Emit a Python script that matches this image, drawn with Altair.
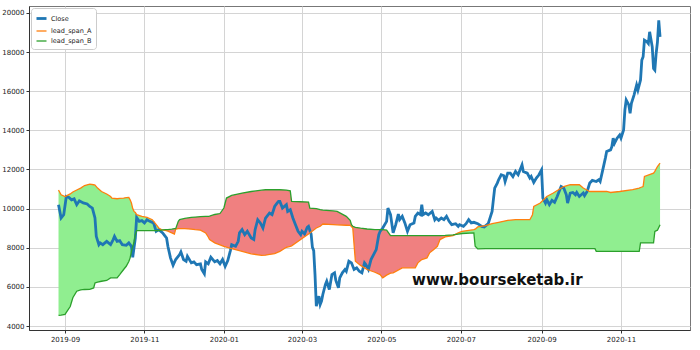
import altair as alt
import pandas as pd

# ---------------- data ----------------
close_dates = [
    "2019-08-27", "2019-08-29", "2019-08-31", "2019-09-02", "2019-09-04", "2019-09-06",
    "2019-09-08", "2019-09-10", "2019-09-12", "2019-09-15", "2019-09-18", "2019-09-20",
    "2019-09-22", "2019-09-24", "2019-09-25", "2019-09-27", "2019-09-28", "2019-09-30",
    "2019-10-03", "2019-10-06", "2019-10-08", "2019-10-09", "2019-10-11", "2019-10-13",
    "2019-10-15", "2019-10-18", "2019-10-20", "2019-10-22", "2019-10-23", "2019-10-25",
    "2019-10-26", "2019-10-28", "2019-10-30", "2019-11-01", "2019-11-03", "2019-11-05",
    "2019-11-08", "2019-11-10", "2019-11-12", "2019-11-15", "2019-11-17", "2019-11-18",
    "2019-11-19", "2019-11-21", "2019-11-23", "2019-11-25", "2019-11-28", "2019-11-29",
    "2019-12-01", "2019-12-03", "2019-12-04", "2019-12-07", "2019-12-09", "2019-12-11",
    "2019-12-14", "2019-12-15", "2019-12-17", "2019-12-18", "2019-12-20", "2019-12-22",
    "2019-12-25", "2019-12-27", "2019-12-29", "2019-12-31", "2020-01-02", "2020-01-04",
    "2020-01-06", "2020-01-07", "2020-01-10", "2020-01-12", "2020-01-13", "2020-01-15",
    "2020-01-17", "2020-01-19", "2020-01-22", "2020-01-24", "2020-01-25", "2020-01-27",
    "2020-01-29", "2020-01-31", "2020-02-02", "2020-02-05", "2020-02-07", "2020-02-09",
    "2020-02-11", "2020-02-12", "2020-02-13", "2020-02-15", "2020-02-18", "2020-02-19",
    "2020-02-21", "2020-02-23", "2020-02-25", "2020-02-27", "2020-02-29", "2020-03-01",
    "2020-03-03", "2020-03-05", "2020-03-06", "2020-03-08", "2020-03-09", "2020-03-10",
    "2020-03-11", "2020-03-12", "2020-03-14", "2020-03-15", "2020-03-16", "2020-03-17",
    "2020-03-19", "2020-03-20", "2020-03-22", "2020-03-24", "2020-03-26", "2020-03-27",
    "2020-03-29", "2020-03-30", "2020-04-01", "2020-04-03", "2020-04-04", "2020-04-06",
    "2020-04-08", "2020-04-10", "2020-04-12", "2020-04-14", "2020-04-16", "2020-04-18",
    "2020-04-19", "2020-04-21", "2020-04-23", "2020-04-25", "2020-04-27", "2020-04-29",
    "2020-04-30", "2020-05-02", "2020-05-05", "2020-05-06", "2020-05-08", "2020-05-10",
    "2020-05-12", "2020-05-14", "2020-05-15", "2020-05-17", "2020-05-19", "2020-05-21",
    "2020-05-23", "2020-05-26", "2020-05-27", "2020-05-29", "2020-05-31", "2020-06-01",
    "2020-06-02", "2020-06-04", "2020-06-06", "2020-06-09", "2020-06-11", "2020-06-12",
    "2020-06-14", "2020-06-16", "2020-06-18", "2020-06-20", "2020-06-22", "2020-06-24",
    "2020-06-27", "2020-06-29", "2020-06-30", "2020-07-03", "2020-07-05", "2020-07-07",
    "2020-07-09", "2020-07-11", "2020-07-14", "2020-07-17", "2020-07-19", "2020-07-22",
    "2020-07-23", "2020-07-25", "2020-07-26", "2020-07-27", "2020-07-29", "2020-07-30",
    "2020-08-01", "2020-08-03", "2020-08-04", "2020-08-06", "2020-08-08", "2020-08-10",
    "2020-08-12", "2020-08-14", "2020-08-17", "2020-08-18", "2020-08-21", "2020-08-23",
    "2020-08-24", "2020-08-26", "2020-08-28", "2020-08-30", "2020-09-01", "2020-09-02",
    "2020-09-04", "2020-09-05", "2020-09-07", "2020-09-09", "2020-09-11", "2020-09-13",
    "2020-09-15", "2020-09-16", "2020-09-18", "2020-09-20", "2020-09-21", "2020-09-23",
    "2020-09-25", "2020-09-27", "2020-09-28", "2020-09-30", "2020-10-03", "2020-10-04",
    "2020-10-06", "2020-10-08", "2020-10-10", "2020-10-13", "2020-10-15", "2020-10-16",
    "2020-10-18", "2020-10-20", "2020-10-21", "2020-10-24", "2020-10-25", "2020-10-26",
    "2020-10-27", "2020-10-29", "2020-10-31", "2020-11-01", "2020-11-03", "2020-11-04",
    "2020-11-05", "2020-11-07", "2020-11-08", "2020-11-09", "2020-11-11", "2020-11-13",
    "2020-11-14", "2020-11-16", "2020-11-17", "2020-11-18", "2020-11-19", "2020-11-21",
    "2020-11-22", "2020-11-23", "2020-11-25", "2020-11-26", "2020-11-27", "2020-11-28",
    "2020-11-29", "2020-11-30", "2020-12-01",
]
close_values = [
    10200, 9520, 9690, 10620, 10570, 10450,
    10500, 10200, 10400, 10290, 10235, 10110,
    10030, 9520, 8585, 8160, 8250, 8160,
    8330, 8160, 8420, 8585, 8330, 8365,
    8160, 8125, 8250, 8075, 7515, 8500,
    9550, 9350, 9385, 9270, 9435, 9350,
    9270, 8840, 8925, 8760, 8585, 8500,
    8075, 7485, 7110, 7400, 7650, 7790,
    7400, 7310, 7565, 7230, 7280, 7140,
    7180, 6890, 6670, 7280, 7180, 7515,
    7280, 7345, 7180, 7400, 7055, 7345,
    7855, 8160, 8075, 8330, 8760, 8925,
    8670, 8840, 8500, 8420, 8925, 9435,
    9270, 9010, 9520, 9775, 9690, 10110,
    10290, 10370, 10370, 10030, 10200, 9860,
    9945, 9520, 9180, 8840, 8670, 8840,
    8705, 9045, 9095, 8705, 8025, 7855,
    6630, 5020, 5530, 5105, 5275, 5615,
    6125, 6290, 5870, 6630, 6720, 6330,
    5955, 6465, 6720, 6890, 6800, 7310,
    7230, 6890, 6975, 6800, 6720, 7230,
    7140, 6890, 7400, 7650, 7905, 8670,
    8840, 9010, 9350, 10030, 9690, 8760,
    9180, 9725, 9435, 9605, 9270, 8840,
    9180, 9270, 9605, 9775, 9690, 10200,
    9690, 9775, 9690, 9860, 9435, 9520,
    9400, 9520, 9435, 9605, 9350, 9180,
    9230, 9095, 9180, 9095, 9230, 9435,
    9270, 9300, 9230, 9095, 9065, 9230,
    9435, 9860, 10455, 11050, 11305, 11475,
    11730, 11680, 11385, 11815, 11815, 11640,
    11900, 11730, 12235, 11900, 11815, 11560,
    11640, 11335, 11560, 11730, 11980, 10540,
    10285, 10455, 10200, 10420, 10320, 10620,
    10965, 11130, 11050, 10710, 10285, 10795,
    10825, 10710, 10825, 10620, 10795, 10660,
    10875, 11305, 11440, 11385, 11475, 11385,
    11980, 12580, 12915, 13000, 13170, 13600,
    13340, 13600, 13765, 13600, 14020, 15040,
    15550, 15295, 14870, 15380, 15800, 16310,
    16060, 16570, 17585, 17755, 18600, 18515,
    18435, 19030, 18265, 17160, 17075, 17925,
    18500, 19620, 18775,
]

span_dates = [
    "2019-08-27", "2019-08-29", "2019-09-01", "2019-09-02", "2019-09-05", "2019-09-07",
    "2019-09-10", "2019-09-13", "2019-09-16", "2019-09-20", "2019-09-23", "2019-09-24",
    "2019-09-26", "2019-09-29", "2019-10-03", "2019-10-06", "2019-10-07", "2019-10-11",
    "2019-10-13", "2019-10-16", "2019-10-18", "2019-10-20", "2019-10-21", "2019-10-22",
    "2019-10-23", "2019-10-24", "2019-10-25", "2019-10-26", "2019-10-30", "2019-11-03",
    "2019-11-07", "2019-11-09", "2019-11-12", "2019-11-14", "2019-11-17", "2019-11-19",
    "2019-11-22", "2019-11-24", "2019-11-25", "2019-11-27", "2019-11-28", "2019-12-02",
    "2019-12-07", "2019-12-10", "2019-12-14", "2019-12-18", "2019-12-20", "2019-12-21",
    "2019-12-25", "2019-12-29", "2020-01-01", "2020-01-03", "2020-01-07", "2020-01-15",
    "2020-01-22", "2020-01-30", "2020-02-02", "2020-02-04", "2020-02-09", "2020-02-13",
    "2020-02-18", "2020-02-21", "2020-02-22", "2020-02-29", "2020-03-06", "2020-03-07",
    "2020-03-12", "2020-03-15", "2020-03-17", "2020-03-25", "2020-03-28", "2020-04-04",
    "2020-04-07", "2020-04-08", "2020-04-09", "2020-04-11", "2020-04-15", "2020-04-20",
    "2020-04-26", "2020-04-30", "2020-05-02", "2020-05-05", "2020-05-08", "2020-05-10",
    "2020-05-17", "2020-05-23", "2020-05-27", "2020-05-29", "2020-06-01", "2020-06-05",
    "2020-06-07", "2020-06-10", "2020-06-13", "2020-06-15", "2020-06-19", "2020-06-25",
    "2020-06-29", "2020-07-02", "2020-07-11", "2020-07-12", "2020-07-14", "2020-07-20",
    "2020-07-25", "2020-07-30", "2020-08-06", "2020-08-12", "2020-08-23", "2020-08-25",
    "2020-08-26", "2020-08-31", "2020-09-05", "2020-09-10", "2020-09-18", "2020-09-23",
    "2020-09-30", "2020-10-03", "2020-10-08", "2020-10-12", "2020-10-13", "2020-10-21",
    "2020-10-24", "2020-10-31", "2020-11-10", "2020-11-15", "2020-11-16", "2020-11-18",
    "2020-11-19", "2020-11-26", "2020-11-27", "2020-11-29", "2020-12-01",
]
lead_span_a = [
    10950, 10710, 10620, 10650, 10750, 10850,
    10950, 11050, 11180, 11255, 11220, 11200,
    11050, 10875, 10745, 10620, 10540, 10505,
    10520, 10540, 10560, 10570, 10450, 10285,
    10000, 9860, 9800, 9690, 9605, 9550,
    9435, 9270, 9010, 8925, 8890, 8850,
    8760, 8700, 8950, 8975, 8975, 8975,
    8950, 8925, 8900, 8760, 8550, 8420,
    8250, 8150, 8075, 8030, 7955, 7820,
    7690, 7615, 7620, 7650, 7700, 7820,
    8025, 8075, 8100, 8420, 8700, 8760,
    9010, 9100, 9215, 9180, 9170, 9150,
    9145, 9080, 9010, 7310, 7100, 6890,
    6750, 6630, 6465, 6600, 6700, 6720,
    6975, 6975, 6975, 7230, 7400, 7485,
    7740, 7905, 8075, 8420, 8555, 8620,
    8760, 8840, 8925, 8950, 9065, 9130,
    9230, 9300, 9400, 9435, 9435, 9690,
    10110, 10285, 10620, 10795, 11130, 11220,
    11220, 11050, 10875, 10875, 10875, 10875,
    10825, 10875, 10965, 11050, 11080, 11130,
    11640, 11815, 11900, 12150, 12320,
]
lead_span_b = [
    4550, 4560, 4600, 4700, 5000, 5450,
    5780, 5850, 5870, 5880, 5950, 6200,
    6250, 6290, 6330, 6460, 6465, 6465,
    6630, 6890, 7055, 7300, 7485, 7820,
    8075, 8300, 8670, 8875, 8875, 8875,
    8875, 8875, 8875, 8900, 8925, 8925,
    8950, 8975, 8975, 9350, 9435, 9500,
    9550, 9570, 9590, 9600, 9605, 9620,
    9700, 9750, 10030, 10540, 10675, 10795,
    10875, 10940, 10965, 10965, 10965, 10965,
    10950, 10910, 10370, 10350, 10335, 10030,
    10000, 9945, 9920, 9880, 9860, 9605,
    9400, 9180, 9100, 9045, 9000, 8960,
    8925, 8925, 8925, 8900, 8620, 8620,
    8620, 8620, 8620, 8620, 8620, 8620,
    8620, 8620, 8620, 8620, 8630, 8660,
    8700, 8730, 8760, 8075, 7940, 7955,
    7955, 7955, 7955, 7955, 7955, 7955,
    7955, 7955, 7955, 7955, 7955, 7955,
    7955, 7955, 7955, 7955, 7820, 7820,
    7820, 7820, 7820, 7820, 8250, 8250,
    8250, 8250, 8840, 8900, 9180,
]

series_names = ["Close", "lead_span_A", "lead_span_B"]
series_colors = ["#1f77b4", "#ff7f0e", "#2ca02c"]
series_widths = [2.8, 1.3, 1.3]
fill_up_color = "#90ee90"     # lightgreen
fill_down_color = "#f08080"   # lightcoral

watermark_text = ["www.bourseketab.ir"]
watermark_date = ["2020-07-29"]
watermark_value = [6330]

x_tick_months = [(2019, 9), (2019, 11), (2020, 1), (2020, 3), (2020, 5),
                 (2020, 7), (2020, 9), (2020, 11)]
y_ticks = [4000, 6000, 8000, 10000, 12000, 14000, 16000, 18000, 20000]

# ---------------- tables ----------------
lines_df = pd.concat([
    pd.DataFrame({"date": close_dates, "value": close_values, "series": "Close"}),
    pd.DataFrame({"date": span_dates, "value": lead_span_a, "series": "lead_span_A"}),
    pd.DataFrame({"date": span_dates, "value": lead_span_b, "series": "lead_span_B"}),
], ignore_index=True)

cloud_df = pd.DataFrame({"date": span_dates, "a": lead_span_a, "b": lead_span_b})
cloud_df["hi"] = cloud_df[["a", "b"]].max(axis=1)

text_df = pd.DataFrame({"date": watermark_date, "value": watermark_value,
                        "label": watermark_text})

FONT = "DejaVu Sans"

x_scale = alt.Scale(
    type="utc",
    domain=[alt.DateTime(year=2019, month=8, date=4, hours=8, utc=True),
            alt.DateTime(year=2020, month=12, date=24, utc=True)],
)
y_scale = alt.Scale(domain=[3800, 20350], nice=False, zero=False)

x_axis = alt.Axis(
    title=None, format="%Y-%m",
    values=[alt.DateTime(year=y, month=m, date=1, utc=True) for y, m in x_tick_months],
)
y_axis = alt.Axis(title=None, values=y_ticks, format="d")

X = alt.X("date:T", scale=x_scale, axis=x_axis)

green_fill = alt.Chart(cloud_df).mark_area(color=fill_up_color, opacity=1).encode(
    x=X, y=alt.Y("hi:Q", scale=y_scale, axis=y_axis), y2="b:Q",
)
red_fill = alt.Chart(cloud_df).mark_area(color=fill_down_color, opacity=1).encode(
    x=X, y=alt.Y("hi:Q", scale=y_scale, axis=y_axis), y2="a:Q",
)

legend = alt.Legend(
    title=None, orient="top-left", offset=2, symbolType="stroke",
    symbolSize=100, labelFontSize=6.5, labelFont=FONT, rowPadding=0,
    padding=4, fillColor="white", strokeColor="#cccccc", cornerRadius=3,
    labelOffset=3, labelColor="#222",
)

lines = alt.Chart(lines_df).mark_line(interpolate="linear").encode(
    x=X,
    y=alt.Y("value:Q", scale=y_scale, axis=y_axis),
    color=alt.Color("series:N", scale=alt.Scale(domain=series_names, range=series_colors),
                    legend=legend),
    strokeWidth=alt.StrokeWidth("series:N",
                                scale=alt.Scale(type="ordinal", domain=series_names,
                                                range=series_widths),
                                legend=legend),
    order=alt.Order("series:N", sort="descending"),
)

text = alt.Chart(text_df).mark_text(
    font=FONT, fontSize=15, fontWeight="bold", color="#111111",
    align="center", baseline="middle",
).encode(
    x=X, y=alt.Y("value:Q", scale=y_scale, axis=y_axis), text="label:N",
)

chart = alt.layer(green_fill, red_fill, lines, text).properties(
    width=661, height=324,
    autosize=alt.AutoSizeParams(type="none"),
    padding={"left": 29, "top": 6, "right": 10, "bottom": 20},
    background="white",
).configure_view(
    stroke="#777777", strokeWidth=1,
).configure_axis(
    labelFont=FONT, labelFontSize=7, labelColor="#222222",
    tickColor="#333333", tickSize=3, labelPadding=2,
    gridColor="#d4d4d4", gridWidth=1, domainColor="#333333",
)

chart.save("out.html", embed_options={"renderer": "svg", "actions": False})
